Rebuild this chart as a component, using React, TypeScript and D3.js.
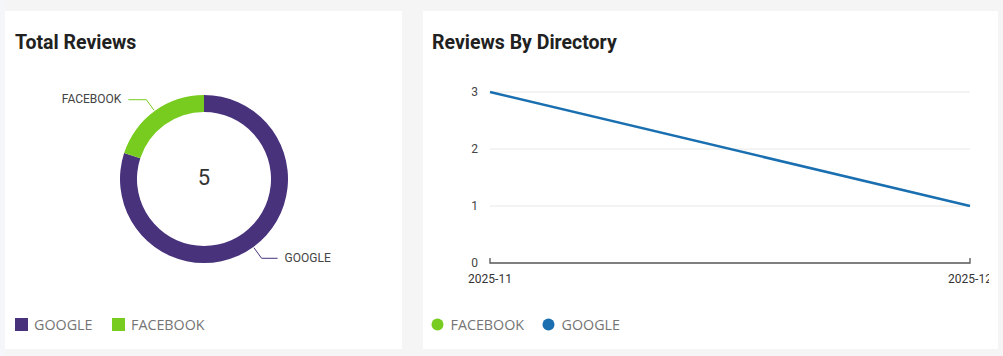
import React from "react";
import * as d3 from "d3";

const directories = ["GOOGLE", "FACEBOOK"];
const totalReviews = [4, 1];
const donutColors = ["#48327c", "#78cc1f"];

const months = ["2025-11", "2025-12"];
const googleSeries = [3, 1];
const facebookSeries: (number | null)[] = [null, 1];
const yTicks = [0, 1, 2, 3];
const lineColors = { FACEBOOK: "#78cc1f", GOOGLE: "#1a6fb0" };

const W = 1003;
const H = 356;

export default function App() {
  // Donut
  const cx = 204, cy = 179, rOuter = 84, rInner = 67;
  const pie = d3.pie<number>().sort(null).value((d) => d);
  const arcs = pie(totalReviews);
  const arcGen = d3.arc<d3.PieArcDatum<number>>().innerRadius(rInner).outerRadius(rOuter);
  const total = d3.sum(totalReviews);

  const labelLines = arcs.map((a, i) => {
    const mid = (a.startAngle + a.endAngle) / 2;
    const sx = Math.sin(mid), sy = -Math.cos(mid);
    const p0 = [cx + sx * (rOuter + 1), cy + sy * (rOuter + 1)];
    const p1 = [cx + sx * (rOuter + 14), cy + sy * (rOuter + 14)];
    const right = sx > 0;
    const p2 = [p1[0] + (right ? 16 : -18), p1[1]];
    return { p0, p1, p2, right, name: directories[i], color: donutColors[i] };
  });

  // Line chart
  const x = d3.scalePoint<string>().domain(months).range([490, 970]);
  const y = d3.scaleLinear().domain([0, 3]).range([263, 92]);
  const line = d3
    .line<number | null>()
    .defined((d) => d != null)
    .x((_, i) => x(months[i]) as number)
    .y((d) => y(d as number));

  return (
    <div style={{ position: "absolute", left: 0, top: 0, width: W, height: H }}>
      <svg width={W} height={H} style={{ display: "block" }}>
        <rect x={0} y={0} width={W} height={H} fill="#f5f5f5" />
        <rect x={0} y={0} width={5} height={H} fill="#f4f6f9" />
        {/* left card */}
        <rect x={5} y={11} width={397} height={338} fill="#ffffff" />
        {/* right card */}
        <rect x={423} y={11} width={575} height={338} fill="#ffffff" />

        <text x={15} y={48.5} fontFamily="Roboto" fontWeight={700} fontSize={19.5} fill="#212121">
          Total Reviews
        </text>
        <text x={432} y={48.5} fontFamily="Roboto" fontWeight={700} fontSize={19.5} fill="#212121">
          Reviews By Directory
        </text>

        {/* donut */}
        <g transform={`translate(${cx},${cy})`}>
          {arcs.map((a, i) => (
            <path key={i} d={arcGen(a) as string} fill={donutColors[i]} />
          ))}
        </g>
        <text x={cx} y={cy - 2} dy="0.35em" textAnchor="middle" fontFamily="Roboto" fontSize={22} fill="#333">
          {total}
        </text>
        {labelLines.map((l, i) => (
          <g key={i}>
            <polyline
              points={`${l.p0[0]},${l.p0[1]} ${l.p1[0]},${l.p1[1]} ${l.p2[0]},${l.p2[1]}`}
              fill="none"
              stroke={l.color}
              strokeWidth={1}
            />
            <text
              x={l.p2[0] + (l.right ? 7 : -7)}
              y={l.p2[1] - 0.5}
              dy="0.35em"
              textAnchor={l.right ? "start" : "end"}
              fontFamily="Roboto"
              fontSize={12}
              fill="#444"
            >
              {l.name}
            </text>
          </g>
        ))}

        {/* left legend */}
        {directories.map((d, i) => {
          const lx = i === 0 ? 15 : 112;
          return (
            <g key={d}>
              <rect x={lx} y={318} width={13} height={13} fill={donutColors[i]} />
              <text x={lx + 19} y={324.5} dy="0.35em" fontFamily="Open Sans" fontSize={14.3} fill="#757575">
                {d}
              </text>
            </g>
          );
        })}

        {/* line chart */}
        <g>
          {yTicks.filter((t) => t > 0).map((t) => (
            <line key={t} x1={490} x2={970} y1={y(t)} y2={y(t)} stroke="#e8e8e8" strokeWidth={1} />
          ))}
          {yTicks.map((t) => (
            <text key={t} x={478} y={y(t)} dy="0.35em" textAnchor="end" fontFamily="Roboto" fontSize={12} fill="#444">
              {t}
            </text>
          ))}
          <path
            d={`M${x(months[0])},${y(0) - 5}V${y(0)}H${x(months[1])}V${y(0) - 5}`}
            fill="none"
            stroke="#555"
            strokeWidth={1.3}
          />
          <svg x={0} y={0} width={989} height={H} overflow="hidden">
            {months.map((m) => (
              <text key={m} x={x(m)} y={279} dy="0.35em" textAnchor="middle" fontFamily="Roboto" fontSize={12} fill="#333">
                {m}
              </text>
            ))}
          </svg>
          <path d={line(facebookSeries) || ""} fill="none" stroke={lineColors.FACEBOOK} strokeWidth={2.5} />
          <path d={line(googleSeries) || ""} fill="none" stroke={lineColors.GOOGLE} strokeWidth={2.5} />
        </g>

        {/* right legend */}
        {[
          { name: "FACEBOOK", color: lineColors.FACEBOOK, cx: 437.5 },
          { name: "GOOGLE", color: lineColors.GOOGLE, cx: 548.5 },
        ].map((l) => (
          <g key={l.name}>
            <circle cx={l.cx} cy={324.5} r={6} fill={l.color} />
            <text x={l.cx + 13} y={324.5} dy="0.35em" fontFamily="Open Sans" fontSize={14.3} fill="#757575">
              {l.name}
            </text>
          </g>
        ))}
      </svg>
    </div>
  );
}
